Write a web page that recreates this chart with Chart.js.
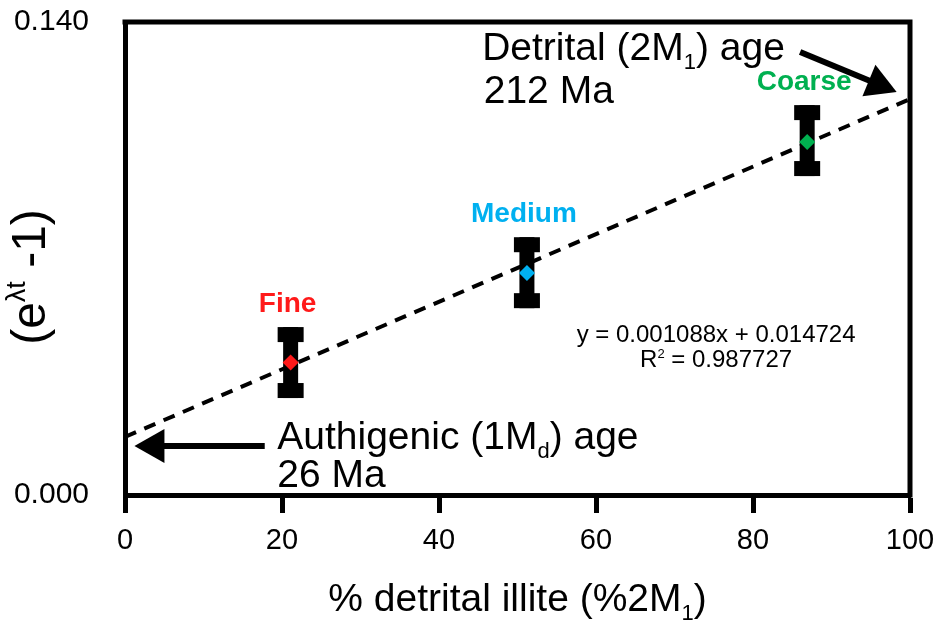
<!DOCTYPE html>
<html>
<head>
<meta charset="utf-8">
<script src="https://cdn.jsdelivr.net/npm/chart.js@4.4.1/dist/chart.umd.min.js"></script>
<style>
  html, body { margin: 0; padding: 0; background: #fff; }
</style>
</head>
<body>
<canvas id="illiteChart" width="934" height="624"></canvas>
<script>
// data
const sizeFractions = ['Fine', 'Medium', 'Coarse'];
const detritalPct = [21.1, 51.2, 86.9];
const ektMinusOne = [0.0392, 0.0657, 0.1045];
const errLow = [0.0287, 0.0553, 0.0944];
const errHigh = [0.0497, 0.0763, 0.1154];
const fractionColors = ['#ff1a1a', '#00b0f0', '#00b050'];
const trendX = [0, 100];
const trendY = [0.0172, 0.1172];
const xTickValues = [0, 20, 40, 60, 80, 100];
const yTickValues = [0, 0.14];

// annotation arrows: [x, y] start and tip, in data units
const detritalArrow = [[86.0, 0.1311], [98.3, 0.1193]];
const authigenicArrow = [[17.8, 0.0145], [1.2, 0.0145]];

const FONT = "'Liberation Sans', Arial, sans-serif";

// draw a run of text pieces (normal / sub / superscript)
function drawRich(ctx, parts, x, y, align) {
    let total = 0;
    parts.forEach(p => {
        ctx.font = (p.bold ? 'bold ' : '') + p.size + 'px ' + FONT;
        p.w = ctx.measureText(p.t).width;
        total += p.w;
    });
    let cx = align === 'center' ? x - total / 2 : x;
    parts.forEach(p => {
        ctx.font = (p.bold ? 'bold ' : '') + p.size + 'px ' + FONT;
        ctx.fillText(p.t, cx, y + (p.dy || 0));
        cx += p.w;
    });
}

function drawArrow(ctx, x1, y1, x2, y2) {
    const ang = Math.atan2(y2 - y1, x2 - x1);
    const headLen = 30, headHalf = 17;
    const bx = x2 - Math.cos(ang) * headLen;
    const by = y2 - Math.sin(ang) * headLen;
    ctx.save();
    ctx.strokeStyle = '#000';
    ctx.fillStyle = '#000';
    ctx.lineWidth = 6;
    ctx.beginPath();
    ctx.moveTo(x1, y1);
    ctx.lineTo(bx + Math.cos(ang) * 4, by + Math.sin(ang) * 4);
    ctx.stroke();
    ctx.beginPath();
    ctx.moveTo(x2, y2);
    ctx.lineTo(bx - Math.sin(ang) * headHalf, by + Math.cos(ang) * headHalf);
    ctx.lineTo(bx + Math.sin(ang) * headHalf, by - Math.cos(ang) * headHalf);
    ctx.closePath();
    ctx.fill();
    ctx.restore();
}

// error bars go right after the trend line so the diamonds sit on top
const errorBarPlugin = {
    id: 'errorBars',
    afterDatasetDraw(chart, args) {
        if (args.index !== 0) return;
        const ctx = chart.ctx;
        const xs = chart.scales.x, ys = chart.scales.y;
        ctx.save();
        ctx.fillStyle = '#000';
        detritalPct.forEach((v, i) => {
            const px = xs.getPixelForValue(v);
            const top = ys.getPixelForValue(errHigh[i]);
            const bot = ys.getPixelForValue(errLow[i]);
            ctx.fillRect(px - 7.5, top, 15, bot - top);
            ctx.fillRect(px - 13, top, 26, 15);
            ctx.fillRect(px - 13, bot - 15, 26, 15);
            // fraction label
            ctx.textAlign = 'left';
            ctx.textBaseline = 'alphabetic';
            ctx.fillStyle = fractionColors[i];
            drawRich(ctx, [{ t: sizeFractions[i], size: 28, bold: true }], px - 3, top - 15, 'center');
            ctx.fillStyle = '#000';
        });
        ctx.restore();
    }
};

const annotationPlugin = {
    id: 'annotations',
    afterDraw(chart) {
        const ctx = chart.ctx;
        const xs = chart.scales.x, ys = chart.scales.y;
        const area = chart.chartArea;
        const X = v => xs.getPixelForValue(v);
        const Y = v => ys.getPixelForValue(v);

        // plot frame (top and right sides)
        ctx.save();
        ctx.strokeStyle = '#000';
        ctx.lineWidth = 5;
        ctx.beginPath();
        ctx.moveTo(area.left - 2.5, area.top);
        ctx.lineTo(area.right, area.top);
        ctx.lineTo(area.right, area.bottom + 2.5);
        ctx.stroke();

        ctx.fillStyle = '#000';
        ctx.textBaseline = 'alphabetic';
        ctx.textAlign = 'left';

        drawArrow(ctx, X(detritalArrow[0][0]), Y(detritalArrow[0][1]), X(detritalArrow[1][0]), Y(detritalArrow[1][1]));
        drawArrow(ctx, X(authigenicArrow[0][0]), Y(authigenicArrow[0][1]), X(authigenicArrow[1][0]), Y(authigenicArrow[1][1]));

        drawRich(ctx, [
            { t: 'Detrital (2M', size: 39 },
            { t: '1', size: 22, dy: 9 },
            { t: ') age', size: 39 }
        ], X(45.5), Y(0.1287), 'left');
        drawRich(ctx, [{ t: '212 Ma', size: 39 }], X(45.7), Y(0.116), 'left');

        drawRich(ctx, [
            { t: 'Authigenic (1M', size: 39 },
            { t: 'd', size: 22, dy: 9 },
            { t: ') age', size: 39 }
        ], X(19.4), Y(0.0136), 'left');
        drawRich(ctx, [{ t: '26 Ma', size: 39 }], X(19.4), Y(0.0024), 'left');

        drawRich(ctx, [{ t: 'y = 0.001088x + 0.014724', size: 24 }], X(75.3), Y(0.0453), 'center');
        drawRich(ctx, [
            { t: 'R', size: 24 },
            { t: '2', size: 13, dy: -9 },
            { t: ' = 0.987727', size: 24 }
        ], X(75.3), Y(0.0379), 'center');

        // axis titles
        drawRich(ctx, [
            { t: '% detrital illite (%2M', size: 39 },
            { t: '1', size: 22, dy: 9 },
            { t: ')', size: 39 }
        ], (area.left + area.right) / 2, 611, 'center');

        ctx.translate(45, 277);
        ctx.rotate(-Math.PI / 2);
        drawRich(ctx, [
            { t: '(e', size: 48 },
            { t: 'λt', size: 27, dy: -20 },
            { t: ' -1)', size: 48 }
        ], 0, 0, 'center');
        ctx.restore();
    }
};

const ctx = document.getElementById('illiteChart').getContext('2d');
const illiteChart = new Chart(ctx, {
    type: 'scatter',
    data: {
        datasets: [{
            type: 'line',
            label: 'trend',
            data: trendX.map((x, i) => ({ x: x, y: trendY[i] })),
            borderColor: '#000',
            borderWidth: 4,
            borderDash: [12, 9],
            pointRadius: 0,
            fill: false,
            order: 2
        }, {
            label: 'samples',
            data: detritalPct.map((x, i) => ({ x: x, y: ektMinusOne[i] })),
            pointStyle: 'rectRot',
            pointRadius: 8,
            pointHoverRadius: 8,
            backgroundColor: fractionColors,
            borderWidth: 0,
            order: 1
        }]
    },
    options: {
        responsive: false,
        animation: false,
        devicePixelRatio: 1,
        layout: { padding: { top: 22, right: 24, left: 0, bottom: 0 } },
        plugins: {
            legend: { display: false },
            tooltip: { enabled: false }
        },
        scales: {
            x: {
                type: 'linear',
                min: 0,
                max: 100,
                afterBuildTicks: axis => { axis.ticks = xTickValues.map(v => ({ value: v })); },
                afterFit: axis => {
                    axis.height = 129;
                    axis.paddingLeft = 0;
                    axis.paddingRight = 0;
                },
                grid: {
                    drawOnChartArea: false,
                    drawTicks: true,
                    tickLength: 18,
                    tickWidth: 5,
                    tickColor: '#000'
                },
                border: { display: true, width: 5, color: '#000' },
                ticks: {
                    color: '#000',
                    padding: 11,
                    maxRotation: 0,
                    font: { family: FONT, size: 29 }
                }
            },
            y: {
                type: 'linear',
                min: 0,
                max: 0.14,
                afterBuildTicks: axis => { axis.ticks = yTickValues.map(v => ({ value: v })); },
                afterFit: axis => {
                    axis.width = 125;
                    axis.paddingTop = 0;
                    axis.paddingBottom = 0;
                },
                grid: { display: false },
                border: { display: true, width: 5, color: '#000' },
                ticks: {
                    color: '#000',
                    padding: 28,
                    font: { family: FONT, size: 30 },
                    callback: v => v.toFixed(3)
                }
            }
        }
    },
    plugins: [errorBarPlugin, annotationPlugin]
});
</script>
</body>
</html>
